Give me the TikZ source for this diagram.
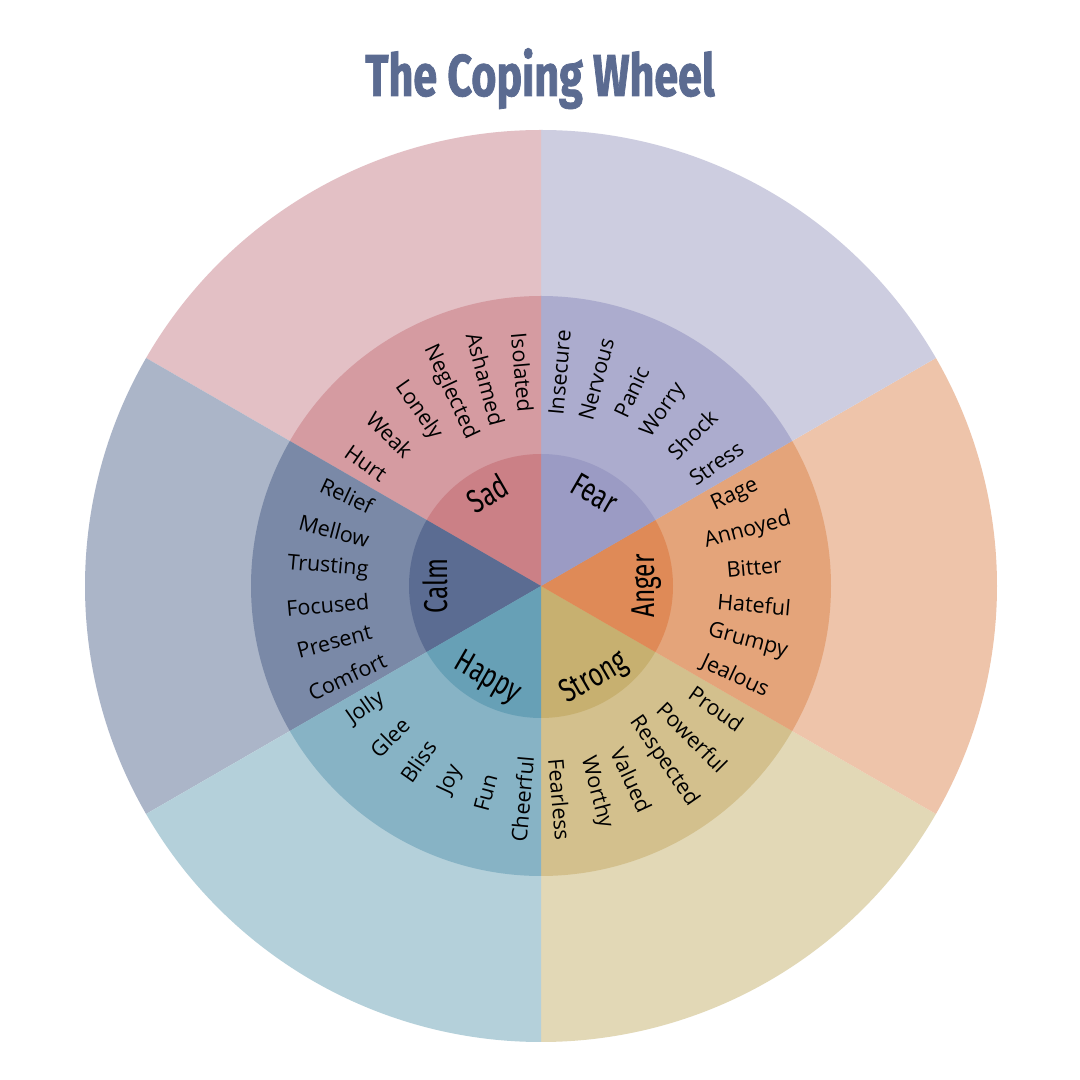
\documentclass[tikz,border=0pt]{standalone}
\usepackage{fontspec}
\setmainfont{Open Sans}
\newfontfamily\wordfont{Open Sans}
\newfontfamily\condfont{Fira Sans}[FakeStretch=0.74]
\newfontfamily\titlefont{Fira Sans}[FakeStretch=0.73, FakeBold=1.2]
\usetikzlibrary{calc}
\definecolor{sadO}{HTML}{E3C0C5}\definecolor{sadM}{HTML}{D59BA1}\definecolor{sadI}{HTML}{CB8086}
\definecolor{feaO}{HTML}{CDCDE0}\definecolor{feaM}{HTML}{ACACCE}\definecolor{feaI}{HTML}{9B9BC4}
\definecolor{angO}{HTML}{EEC4AA}\definecolor{angM}{HTML}{E4A47A}\definecolor{angI}{HTML}{DF8A57}
\definecolor{strO}{HTML}{E2D8B6}\definecolor{strM}{HTML}{D3C08D}\definecolor{strI}{HTML}{C7B070}
\definecolor{hapO}{HTML}{B4D0DA}\definecolor{hapM}{HTML}{87B3C5}\definecolor{hapI}{HTML}{67A0B6}
\definecolor{calO}{HTML}{ABB5C8}\definecolor{calM}{HTML}{7A89A7}\definecolor{calI}{HTML}{5B6C92}
\definecolor{titlecol}{HTML}{5B6B91}
\tikzset{
  word/.style={inner sep=0pt, text=black, font={\wordfont\fontsize{21.5pt}{23pt}\selectfont}},
  corelabel/.style={inner sep=0pt, text=black, font={\condfont\fontsize{33pt}{35pt}\selectfont}},
  titlestyle/.style={inner sep=0pt, text=titlecol, font={\titlefont\bfseries\fontsize{59pt}{60pt}\selectfont}}
}
\begin{document}
\begin{tikzpicture}[x=1pt,y=1pt]
\useasboundingbox (0,0) rectangle (1080,1080);
\fill[white] (0,0) rectangle (1080,1080);
\coordinate (C) at (541,494);
% sectors: outer, middle, inner
\foreach \r/\s in {456/O, 290/M, 132/I}{
  \foreach \a/\n in {-90/str, -30/ang, 30/fea, 90/sad, 150/cal, 210/hap}{
    \pgfmathsetmacro\b{\a+60}
    \fill[\n\s] (C) -- ($(C)+(\a:\r pt)$) arc[start angle=\a, end angle=\b, radius=\r pt] -- cycle;
  }
}
% words of the middle ring
\foreach \w [count=\i] in {Fearless, Worthy, Valued, Respected, Powerful, Proud,
  Jealous, Grumpy, Hateful, Bitter, Annoyed, Rage,
  Stress, Shock, Worry, Panic, Nervous, Insecure,
  Isolated, Ashamed, Neglected, Lonely, Weak, Hurt,
  Relief, Mellow, Trusting, Focused, Present, Comfort,
  Jolly, Glee, Bliss, Joy, Fun, Cheerful}{
  \pgfmathsetmacro\ang{-95+10*\i}
  \pgfmathsetmacro\rot{ifthenelse(\i<19,\ang,\ang+180)}
  \node[word, rotate=\rot] (w\i) at ($(C)+(\ang:214pt)$) {\w};
}
% core labels
\node[corelabel, rotate=30]  (sad)    at ($(C)+(120:107pt)$) {Sad};
\node[corelabel, rotate=-30] (fear)   at ($(C)+(60:107pt)$) {Fear};
\node[corelabel, rotate=90]  (anger)  at ($(C)+(0:106pt)$) {Anger};
\node[corelabel, rotate=30]  (strong) at ($(C)+(-60:107pt)$) {Strong};
\node[corelabel, rotate=-30] (happy)  at ($(C)+(-120:107pt)$) {Happy};
\node[corelabel, rotate=90]  (calm)   at ($(C)+(180:106pt)$) {Calm};
% title
\node[titlestyle, anchor=base] (title) at (540,984) {The Coping Wheel};
\end{tikzpicture}
\end{document}
